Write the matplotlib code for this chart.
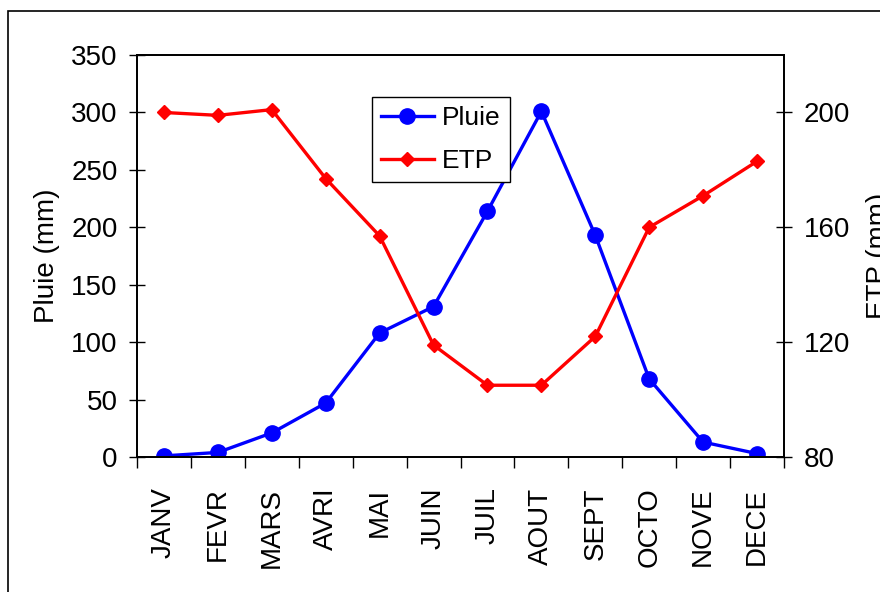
import numpy as np
import matplotlib.pyplot as plt
from matplotlib.patches import Rectangle

plt.rcParams['font.family'] = ['Liberation Sans', 'DejaVu Sans']

# donnees
mois = ["JANV", "FEVR", "MARS", "AVRI", "MAI", "JUIN",
        "JUIL", "AOUT", "SEPT", "OCTO", "NOVE", "DECE"]
pluie = [1, 4, 21, 47, 108, 131, 214, 301, 193, 68, 13, 3]
etp = [200, 199, 201, 177, 157, 119, 105, 105, 122, 160, 171, 183]

x = np.arange(len(mois))

fig = plt.figure(figsize=(8.8, 5.92), dpi=100)
ax = fig.add_axes([0.1557, 0.228, 0.7352, 0.679])
ax2 = ax.twinx()

# cadre exterieur
fig.patches.append(Rectangle((8 / 880, -0.1), 1.2, 1.1 - 11 / 592,
                             transform=fig.transFigure, fill=False,
                             edgecolor='black', linewidth=1.2))

l1, = ax.plot(x, pluie, '-o', color='#0000ff', lw=2.4, ms=11, label='Pluie')
l2, = ax2.plot(x, etp, '-D', color='#ff0000', lw=2.4, ms=7, label='ETP')

ax.set_xlim(-0.5, 11.5)
ax.set_ylim(0, 350)
ax2.set_ylim(80, 220)
ax.set_yticks(np.arange(0, 351, 50))
ax2.set_yticks([80, 120, 160, 200])

ax.set_xticks(np.arange(-0.5, 12, 1))
ax.set_xticklabels([])
ax.set_xticks(x, minor=True)
ax.set_xticklabels(mois, minor=True, rotation=90, fontsize=20)
ax.tick_params(axis='x', which='minor', length=0, pad=22)
ax.tick_params(axis='x', which='major', direction='out', length=8, width=1)
ax.tick_params(axis='y', direction='inout', length=12, width=1, labelsize=20, pad=8)
ax2.tick_params(axis='y', direction='inout', length=12, width=1, labelsize=20, pad=8)

ax.set_ylabel("Pluie (mm)", fontsize=20, labelpad=8)
ax2.set_ylabel("ETP (mm)", fontsize=20, labelpad=12)

for a in (ax, ax2):
    for s in a.spines.values():
        s.set_linewidth(1.3)

leg = ax.legend([l1, l2], ['Pluie', 'ETP'], loc='upper left',
                bbox_to_anchor=(0.363, 0.895), borderaxespad=0,
                fontsize=19, fancybox=False,
                framealpha=1, edgecolor='black', handlelength=2.0,
                handletextpad=0.3, borderpad=0.35, labelspacing=0.7)
leg.get_frame().set_linewidth(1.0)
leg.remove()
ax2.add_artist(leg)

fig.savefig("out.png", dpi=100)
